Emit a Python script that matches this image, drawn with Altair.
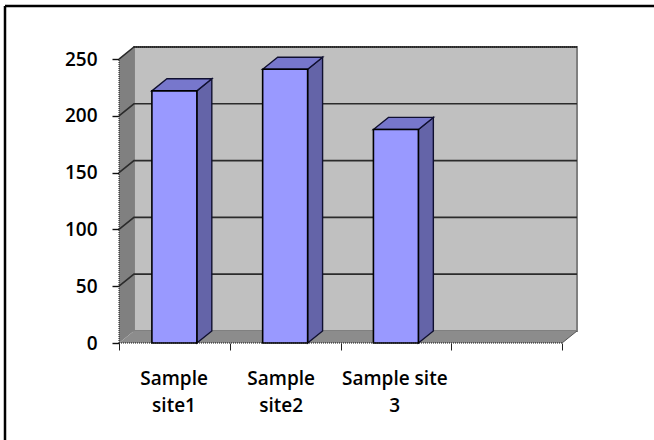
import altair as alt
import pandas as pd

# Series and labels
site_lines = [["Sample", "site1"], ["Sample", "site2"], ["Sample site", "3"]]
site_values = [222, 241, 188]
label_slots = [0.497, 1.464, 2.49]
value_ticks = [0, 50, 100, 150, 200, 250]
slot_ticks = [0, 1, 2, 3, 4]

# Extruded look: how far the back plane sits from the front plane, in data units
DEPTH_X = 0.135
DEPTH_Y = 10.6
BAR_HALF = 0.203
SLOTS = 4
Y_TOP = 250
FONT = dict(labelFont="Open Sans", labelFontSize=19, labelFontWeight=600, labelColor="#000000")

x_scale = alt.Scale(domain=[0, SLOTS + DEPTH_X], range=[0, 458], nice=False, zero=False)
y_scale = alt.Scale(domain=[0, Y_TOP + DEPTH_Y], range=[296, 0], nice=False, zero=False)

# Every layer shares one axis definition so they merge cleanly
x_axis = alt.Axis(
    values=slot_ticks, labels=False, title=None, grid=False, domain=False,
    tickSize=7, tickColor="#222222", tickWidth=1,
)
y_axis = alt.Axis(
    values=value_ticks, title=None, grid=False, domain=False,
    tickSize=7, tickColor="#111111", tickWidth=1.4, labelPadding=15, **FONT,
)

X = lambda f: alt.X(f, type="quantitative", scale=x_scale, axis=x_axis)
Y = lambda f: alt.Y(f, type="quantitative", scale=y_scale, axis=y_axis)

bars = pd.DataFrame({
    "site": range(len(site_values)),
    "value": site_values,
    "left": [i + 0.5 - BAR_HALF for i in range(len(site_values))],
    "right": [i + 0.5 + BAR_HALF for i in range(len(site_values))],
})
bars["base"] = 0
bars["lines"] = site_lines
bars["mid"] = label_slots

# Back wall
wall_df = pd.DataFrame({"x": [DEPTH_X], "x2": [SLOTS + DEPTH_X], "y": [DEPTH_Y], "y2": [Y_TOP + DEPTH_Y]})
back_wall = alt.Chart(wall_df).mark_rect(fill="#c0c0c0", stroke="#808080", strokeWidth=2).encode(
    x=X("x"), x2="x2", y=Y("y"), y2="y2"
)

# Left side wall, a sheared panel
side_df = pd.DataFrame({"x": [0, DEPTH_X], "low": [0, DEPTH_Y], "high": [Y_TOP, Y_TOP + DEPTH_Y]})
side_wall = alt.Chart(side_df).mark_area(fill="#808080", orient="vertical").encode(
    x=X("x"), y=Y("low"), y2="high"
)

# Floor, a sheared panel
floor_df = pd.DataFrame({"y": [0, DEPTH_Y], "x": [0, DEPTH_X], "x2": [SLOTS, SLOTS + DEPTH_X]})
floor = alt.Chart(floor_df).mark_area(fill="#8c8c8c", orient="horizontal").encode(
    y=Y("y"), x=X("x"), x2="x2"
)
floor_edge = alt.Chart(pd.DataFrame({"x": [SLOTS, SLOTS + DEPTH_X], "y": [0, DEPTH_Y]})).mark_line(
    color="#555555", strokeWidth=1
).encode(x=X("x"), y=Y("y"))

# Gridlines run across the back wall and slant down the side wall
grid_rows = []
for v in value_ticks[1:]:
    grid_rows += [
        {"v": v, "x": 0, "y": v},
        {"v": v, "x": DEPTH_X, "y": v + DEPTH_Y},
        {"v": v, "x": SLOTS + DEPTH_X, "y": v + DEPTH_Y},
    ]
grid = alt.Chart(pd.DataFrame(grid_rows)).mark_line(color="#2b2b2b", strokeWidth=1.6).encode(
    x=X("x"), y=Y("y"), detail="v:N", order="x:Q"
)

# Bar faces
side_rows = []
top_rows = []
for i, v in enumerate(site_values):
    r = bars["right"][i]
    l = bars["left"][i]
    side_rows += [
        {"site": i, "x": r, "low": 0, "high": v},
        {"site": i, "x": r + DEPTH_X, "low": DEPTH_Y, "high": v + DEPTH_Y},
    ]
    top_rows += [
        {"site": i, "y": v, "x": l, "x2": r},
        {"site": i, "y": v + DEPTH_Y, "x": l + DEPTH_X, "x2": r + DEPTH_X},
    ]

bar_side = alt.Chart(pd.DataFrame(side_rows)).mark_area(
    fill="#6464a8", stroke="#101030", strokeWidth=1.4, orient="vertical"
).encode(x=X("x"), y=Y("low"), y2="high", detail="site:N")
bar_top = alt.Chart(pd.DataFrame(top_rows)).mark_area(
    fill="#7777cc", stroke="#101030", strokeWidth=1.4, orient="horizontal"
).encode(y=Y("y"), x=X("x"), x2="x2", detail="site:N")
bar_front = alt.Chart(bars).mark_rect(fill="#9999ff", stroke="#000000", strokeWidth=1.6).encode(
    x=X("left"), x2="right", y=Y("value"), y2="base"
)

# Dotted front and rear edges
edge_style = dict(color="#111111", strokeWidth=1, strokeDash=[1, 1])
front_left = alt.Chart(pd.DataFrame({"x": [0], "y": [0], "y2": [Y_TOP]})).mark_rule(**edge_style).encode(
    x=X("x"), y=Y("y"), y2="y2"
)
front_bottom = alt.Chart(pd.DataFrame({"x": [0], "x2": [SLOTS], "y": [0]})).mark_rule(**edge_style).encode(
    x=X("x"), x2="x2", y=Y("y")
)
rear_top = alt.Chart(pd.DataFrame({"x": [DEPTH_X], "x2": [SLOTS + DEPTH_X], "y": [Y_TOP + DEPTH_Y]})).mark_rule(**edge_style).encode(
    x=X("x"), x2="x2", y=Y("y")
)

# Category labels below the plot, wrapped over two lines
labels = alt.Chart(bars).mark_text(
    font="Open Sans", fontSize=19, fontWeight=600, color="#000000",
    baseline="top", lineHeight=27,
).encode(x=X("mid"), y=alt.value(323), text="lines")

# Thin frame around the figure, open at the right and bottom edges
frame_style = dict(color="#000000", strokeWidth=2.5)
frame_top = alt.Chart(pd.DataFrame({"n": [0]})).mark_rule(**frame_style).encode(
    x=alt.value(-114), x2=alt.value(535), y=alt.value(-41)
)
frame_left = alt.Chart(pd.DataFrame({"n": [0]})).mark_rule(**frame_style).encode(
    x=alt.value(-114), y=alt.value(-41), y2=alt.value(393)
)

chart = alt.layer(
    back_wall, side_wall, floor, floor_edge, grid, bar_side, bar_top, bar_front,
    front_left, front_bottom, rear_top, labels, frame_top, frame_left,
).properties(
    width=458, height=296,
    autosize=alt.AutoSizeParams(type="none", contains="content"),
    padding={"left": 119, "top": 47, "right": 77, "bottom": 97},
    background="#ffffff",
).configure_view(stroke=None)

chart.save("out.html", embed_options={"renderer": "svg", "actions": False})
